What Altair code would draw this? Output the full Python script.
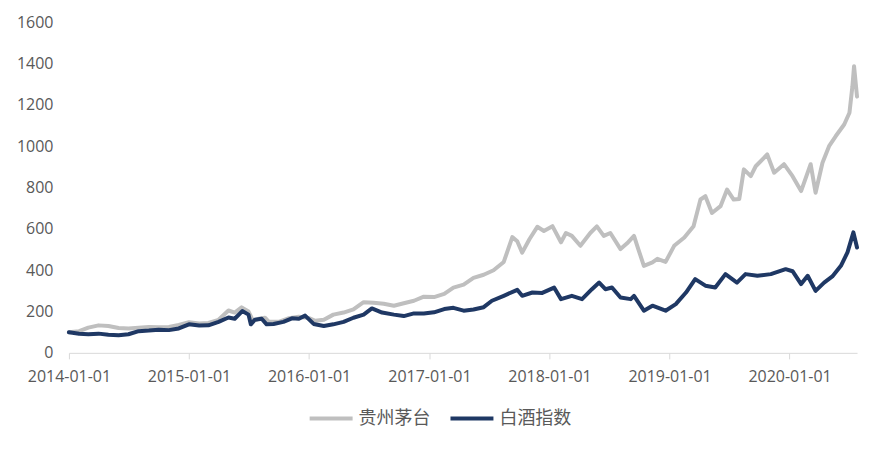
import altair as alt
import pandas as pd

series_names = ["贵州茅台", "白酒指数"]

moutai_dates = [
    "2014-01-01", "2014-02-01", "2014-03-01", "2014-04-01", "2014-05-01", "2014-06-01",
    "2014-07-01", "2014-08-01", "2014-09-01", "2014-10-01", "2014-11-01", "2014-12-01",
    "2015-01-01", "2015-02-01", "2015-03-01", "2015-04-01", "2015-05-01", "2015-05-20",
    "2015-06-10", "2015-07-01", "2015-07-15", "2015-08-01", "2015-08-20", "2015-09-01",
    "2015-10-01", "2015-11-01", "2015-12-01", "2016-01-01", "2016-01-20", "2016-02-15",
    "2016-03-15", "2016-04-15", "2016-05-15", "2016-06-15", "2016-07-15", "2016-08-15",
    "2016-09-15", "2016-10-15", "2016-11-15", "2016-12-15", "2017-01-15", "2017-02-15",
    "2017-03-15", "2017-04-15", "2017-05-15", "2017-06-15", "2017-07-15", "2017-08-15",
    "2017-09-10", "2017-09-25", "2017-10-10", "2017-11-01", "2017-11-25", "2017-12-15",
    "2018-01-10", "2018-02-05", "2018-02-20", "2018-03-10", "2018-04-05", "2018-05-05",
    "2018-05-25", "2018-06-15", "2018-07-05", "2018-08-05", "2018-08-25", "2018-09-15",
    "2018-09-28", "2018-10-15", "2018-11-10", "2018-11-25", "2018-12-20", "2019-01-15",
    "2019-02-15", "2019-03-15", "2019-04-05", "2019-04-20", "2019-05-10", "2019-06-05",
    "2019-06-25", "2019-07-15", "2019-08-01", "2019-08-15", "2019-09-05", "2019-09-20",
    "2019-10-25", "2019-11-15", "2019-12-15", "2020-01-10", "2020-02-05", "2020-03-05",
    "2020-03-20", "2020-04-10", "2020-04-30", "2020-05-20", "2020-06-15", "2020-07-01",
    "2020-07-10", "2020-07-15", "2020-07-24",
]
moutai_values = [
    100, 105, 122, 133, 130, 120,
    118, 122, 125, 124, 125, 135,
    148, 142, 145, 160, 205, 195,
    220, 200, 155, 165, 170, 150,
    150, 168, 175, 168, 155, 160,
    185, 195, 210, 245, 242, 238,
    228, 240, 252, 272, 270, 285,
    316, 330, 363, 378, 400, 440,
    560, 540, 485, 550, 610, 590,
    613, 535, 580, 566, 518, 580,
    612, 566, 580, 502, 530, 566,
    502, 421, 438, 455, 440, 518,
    558, 613, 742, 758, 677, 710,
    790, 742, 745, 888, 855, 903,
    960, 872, 913, 855, 783, 913,
    775, 920, 1000, 1048, 1105, 1162,
    1290, 1387, 1240,
]

baijiu_dates = [
    "2014-01-01", "2014-02-01", "2014-03-01", "2014-04-01", "2014-05-01", "2014-06-01",
    "2014-07-01", "2014-08-01", "2014-09-01", "2014-10-01", "2014-11-01", "2014-12-01",
    "2015-01-01", "2015-02-01", "2015-03-01", "2015-04-01", "2015-05-01", "2015-05-20",
    "2015-06-12", "2015-07-01", "2015-07-08", "2015-07-20", "2015-08-10", "2015-08-25",
    "2015-09-15", "2015-10-15", "2015-11-10", "2015-12-01", "2015-12-20", "2016-01-15",
    "2016-02-15", "2016-03-15", "2016-04-15", "2016-05-15", "2016-06-15", "2016-07-10",
    "2016-08-10", "2016-09-15", "2016-10-15", "2016-11-15", "2016-12-15", "2017-01-15",
    "2017-02-15", "2017-03-15", "2017-04-15", "2017-05-15", "2017-06-15", "2017-07-10",
    "2017-08-15", "2017-09-25", "2017-10-10", "2017-11-10", "2017-12-10", "2018-01-15",
    "2018-02-05", "2018-03-10", "2018-04-10", "2018-05-10", "2018-06-01", "2018-06-20",
    "2018-07-10", "2018-08-05", "2018-09-05", "2018-09-15", "2018-10-15", "2018-11-10",
    "2018-12-20", "2019-01-20", "2019-02-20", "2019-03-20", "2019-04-20", "2019-05-20",
    "2019-06-20", "2019-07-25", "2019-08-20", "2019-09-25", "2019-11-05", "2019-12-20",
    "2020-01-10", "2020-02-05", "2020-02-25", "2020-03-20", "2020-04-15", "2020-05-10",
    "2020-06-05", "2020-06-25", "2020-07-13", "2020-07-24",
]
baijiu_values = [
    100, 92, 90, 93, 88, 85,
    90, 105, 108, 112, 110, 118,
    138, 132, 133, 150, 171, 165,
    202, 185, 138, 160, 165, 138,
    140, 150, 167, 165, 180, 140,
    130, 138, 150, 170, 185, 215,
    195, 185, 178, 191, 190, 196,
    212, 218, 204, 210, 221, 252,
    276, 305, 276, 292, 290, 316,
    260, 276, 260, 308, 340, 308,
    316, 268, 260, 276, 204, 228,
    204, 236, 292, 357, 325, 316,
    381, 340, 381, 373, 381, 405,
    395, 333, 373, 300, 340, 370,
    421, 486, 583, 510,
]

y_ticks = [0, 200, 400, 600, 800, 1000, 1200, 1400, 1600]
x_tick_years = [2014, 2015, 2016, 2017, 2018, 2019, 2020]
x_domain = ["2014-01-01", "2020-07-24"]
colors = ["#BFBFBF", "#1F3864"]

df = pd.concat([
    pd.DataFrame({"date": moutai_dates, "value": moutai_values, "series": series_names[0]}),
    pd.DataFrame({"date": baijiu_dates, "value": baijiu_values, "series": series_names[1]}),
], ignore_index=True)

text_color = "#595959"
font = "Open Sans"

chart = alt.Chart(df).mark_line(strokeWidth=4, strokeJoin="round", strokeCap="round").encode(
    x=alt.X(
        "date:T",
        title=None,
        scale=alt.Scale(type="utc", domain=x_domain),
        axis=alt.Axis(
            values=[alt.DateTime(year=y, month=1, date=1, utc=True) for y in x_tick_years],
            format="%Y-%m-%d",
            grid=False,
            domainColor="#D9D9D9",
            domainWidth=1,
            tickColor="#D9D9D9",
            tickSize=6,
            labelPadding=10,
            labelColor=text_color,
            labelFont=font,
            labelFontSize=16,
            labelFlush=False,
        ),
    ),
    y=alt.Y(
        "value:Q",
        title=None,
        scale=alt.Scale(domain=[0, 1600], nice=False),
        axis=alt.Axis(
            values=y_ticks,
            format="d",
            grid=False,
            domain=False,
            ticks=False,
            labelPadding=16,
            labelColor=text_color,
            labelFont=font,
            labelFontSize=16,
        ),
    ),
    color=alt.Color(
        "series:N",
        sort=series_names,
        scale=alt.Scale(domain=series_names, range=colors),
        legend=alt.Legend(
            title=None,
            orient="none",
            direction="horizontal",
            legendX=239,
            legendY=373,
            symbolType="stroke",
            symbolSize=1849,
            symbolStrokeWidth=4,
            labelFont="Noto Sans CJK SC",
            labelFontSize=18,
            labelColor=text_color,
            labelOffset=4,
            columnPadding=12,
            padding=0,
        ),
    ),
    order=alt.Order("series_order:Q"),
).transform_calculate(
    series_order="datum.series == '贵州茅台' ? 0 : 1"
).properties(
    width=789,
    height=331,
    autosize=alt.AutoSizeParams(type="none"),
    padding={"left": 61, "top": 14, "right": 16, "bottom": 90},
).configure_view(stroke=None)

chart.save("out.html", embed_options={"renderer": "svg", "actions": False})
